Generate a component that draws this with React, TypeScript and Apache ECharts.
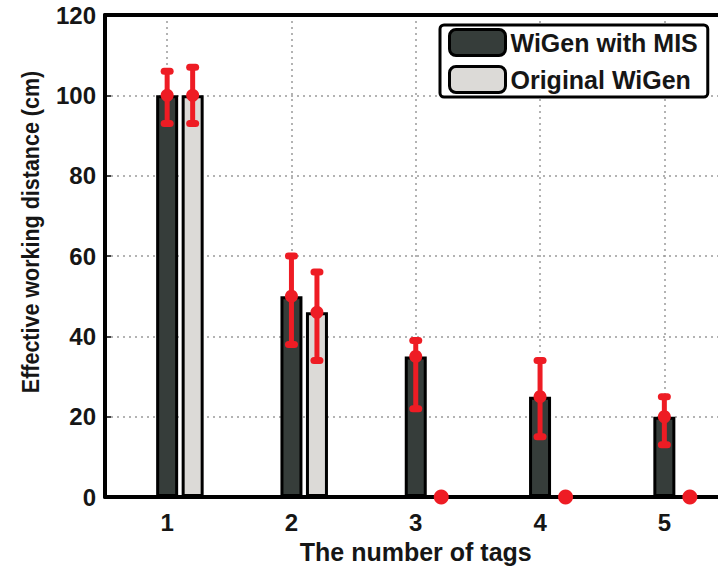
import React, { useEffect, useRef } from "react";
import * as echarts from "echarts";

// ---- data ----
const categories = ["1", "2", "3", "4", "5"];
const seriesNames = ["WiGen with MIS", "Original WiGen"];
const misMean = [100, 50, 35, 25, 20];
const misLow = [93, 38, 22, 15, 13];
const misHigh = [106, 60, 39, 34, 25];
const origMean = [100, 46, 0, 0, 0];
const origLow = [93, 34, 0, 0, 0];
const origHigh = [107, 56, 0, 0, 0];
const yMin = 0;
const yMax = 120;
const yInterval = 20;

// ---- styles ----
const DARK = "#363d3a";
const LIGHT = "#dcdad7";
const RED = "#ee1c24";
const BAR_WIDTH = 22;
const BAR_GAP_PX = 3.5;
const TEXT = "#161616";
const FONT = "'Liberation Sans', Arial, Helvetica, sans-serif";

function errorSeries(mean: number[], low: number[], high: number[], offset: number) {
  return {
    type: "custom",
    z: 5,
    silent: true,
    data: categories.map((_, i) => [i, low[i], high[i], mean[i]]),
    encode: { x: 0, y: [1, 2, 3] },
    renderItem: (params: any, api: any) => {
      const i = api.value(0);
      const lo = api.coord([i, api.value(1)]);
      const hi = api.coord([i, api.value(2)]);
      const mid = api.coord([i, api.value(3)]);
      const x = mid[0] + offset;
      const children: any[] = [];
      if (Math.abs(lo[1] - hi[1]) > 0.5) {
        children.push({
          type: "line",
          shape: { x1: x, y1: hi[1], x2: x, y2: lo[1] },
          style: { stroke: RED, lineWidth: 5 },
        });
        [hi[1], lo[1]].forEach((yy: number) => {
          children.push({
            type: "line",
            shape: { x1: x - 3, y1: yy, x2: x + 3, y2: yy },
            style: { stroke: RED, lineWidth: 7, lineCap: "round" },
          });
        });
        children.push({
          type: "circle",
          shape: { cx: x, cy: mid[1], r: 6.5 },
          style: { fill: RED },
        });
      } else {
        children.push({
          type: "circle",
          shape: { cx: x, cy: mid[1], r: 7.5 },
          style: { fill: RED },
        });
      }
      return { type: "group", children };
    },
  };
}

export default function App() {
  const ref = useRef<HTMLDivElement>(null);

  useEffect(() => {
    if (!ref.current) return;
    const chart = echarts.init(ref.current, null, { renderer: "svg" });
    const option: any = {
      animation: false,
      backgroundColor: "#fff",
      grid: { left: 105, top: 15, width: 621.5, height: 485 },
      legend: {
        data: seriesNames,
        orient: "vertical",
        left: 440,
        top: 25,
        padding: [3, 10, 3, 8],
        itemGap: 8,
        itemWidth: 56,
        itemHeight: 26,
        backgroundColor: "#fff",
        borderColor: "#000",
        borderWidth: 3,
        borderRadius: 4,
        itemStyle: { borderColor: "#000", borderWidth: 3 },
        textStyle: {
          fontFamily: FONT,
          fontWeight: "bold",
          fontSize: 25,
          color: TEXT,
          lineHeight: 27,
        },
      },
      graphic: [
        {
          type: "text",
          x: 30,
          y: 232,
          rotation: Math.PI / 2,
          scaleY: 1.15,
          style: {
            text: "Effective working distance (cm)",
            font: `bold 21.5px ${FONT}`,
            fill: TEXT,
            align: "center",
            verticalAlign: "middle",
          },
        },
      ],
      xAxis: [
        {
          type: "category",
          data: categories,
          position: "bottom",
          boundaryGap: true,
          name: "The number of tags",
          nameLocation: "middle",
          nameGap: 33,
          nameTextStyle: { fontFamily: FONT, fontWeight: "bold", fontSize: 25, color: TEXT },
          axisLine: { lineStyle: { color: "#000", width: 4 } },
          axisTick: { inside: true, alignWithLabel: true, length: 6, lineStyle: { color: "#000", width: 1.5 } },
          axisLabel: { fontFamily: FONT, fontWeight: "bold", fontSize: 24, color: TEXT, margin: 13 },
          splitLine: {
            show: true,
            alignWithLabel: true,
            lineStyle: { color: "#9a9a9a", type: [2, 4], width: 1.5 },
          },
        },
        {
          type: "category",
          data: categories,
          position: "top",
          boundaryGap: true,
          axisLine: { lineStyle: { color: "#000", width: 4 } },
          axisTick: { inside: true, alignWithLabel: true, length: 6, lineStyle: { color: "#000", width: 1.5 } },
          axisLabel: { show: false },
          splitLine: { show: false },
        },
      ],
      yAxis: {
        type: "value",
        min: yMin,
        max: yMax,
        interval: yInterval,
        axisLine: { show: true, lineStyle: { color: "#000", width: 4 } },
        axisTick: { show: true, inside: true, length: 6, lineStyle: { color: "#000", width: 1.5 } },
        axisLabel: { fontFamily: FONT, fontWeight: "bold", fontSize: 24, color: TEXT, margin: 9 },
        splitLine: { show: true, lineStyle: { color: "#9a9a9a", type: [2, 4], width: 1.5 } },
      },
      series: [
        {
          name: "spacer",
          type: "bar",
          barWidth: BAR_WIDTH,
          barGap: `${(BAR_GAP_PX / BAR_WIDTH) * 100}%`,
          data: categories.map(() => "-"),
          silent: true,
        },
        {
          name: seriesNames[0],
          type: "bar",
          barWidth: BAR_WIDTH,
          data: misMean,
          itemStyle: { color: DARK, borderColor: "#000", borderWidth: 3 },
        },
        {
          name: seriesNames[1],
          type: "bar",
          barWidth: BAR_WIDTH,
          data: origMean,
          itemStyle: { color: LIGHT, borderColor: "#000", borderWidth: 3 },
        },
        errorSeries(misMean, misLow, misHigh, 0),
        errorSeries(origMean, origLow, origHigh, BAR_WIDTH + BAR_GAP_PX),
      ],
    };
    chart.setOption(option);
    return () => chart.dispose();
  }, []);

  return (
    <div
      style={{
        position: "fixed",
        left: 0,
        top: 0,
        width: 718,
        height: 569,
        overflow: "hidden",
        background: "#fff",
      }}
    >
      <div ref={ref} style={{ width: 740, height: 569 }} />
    </div>
  );
}
